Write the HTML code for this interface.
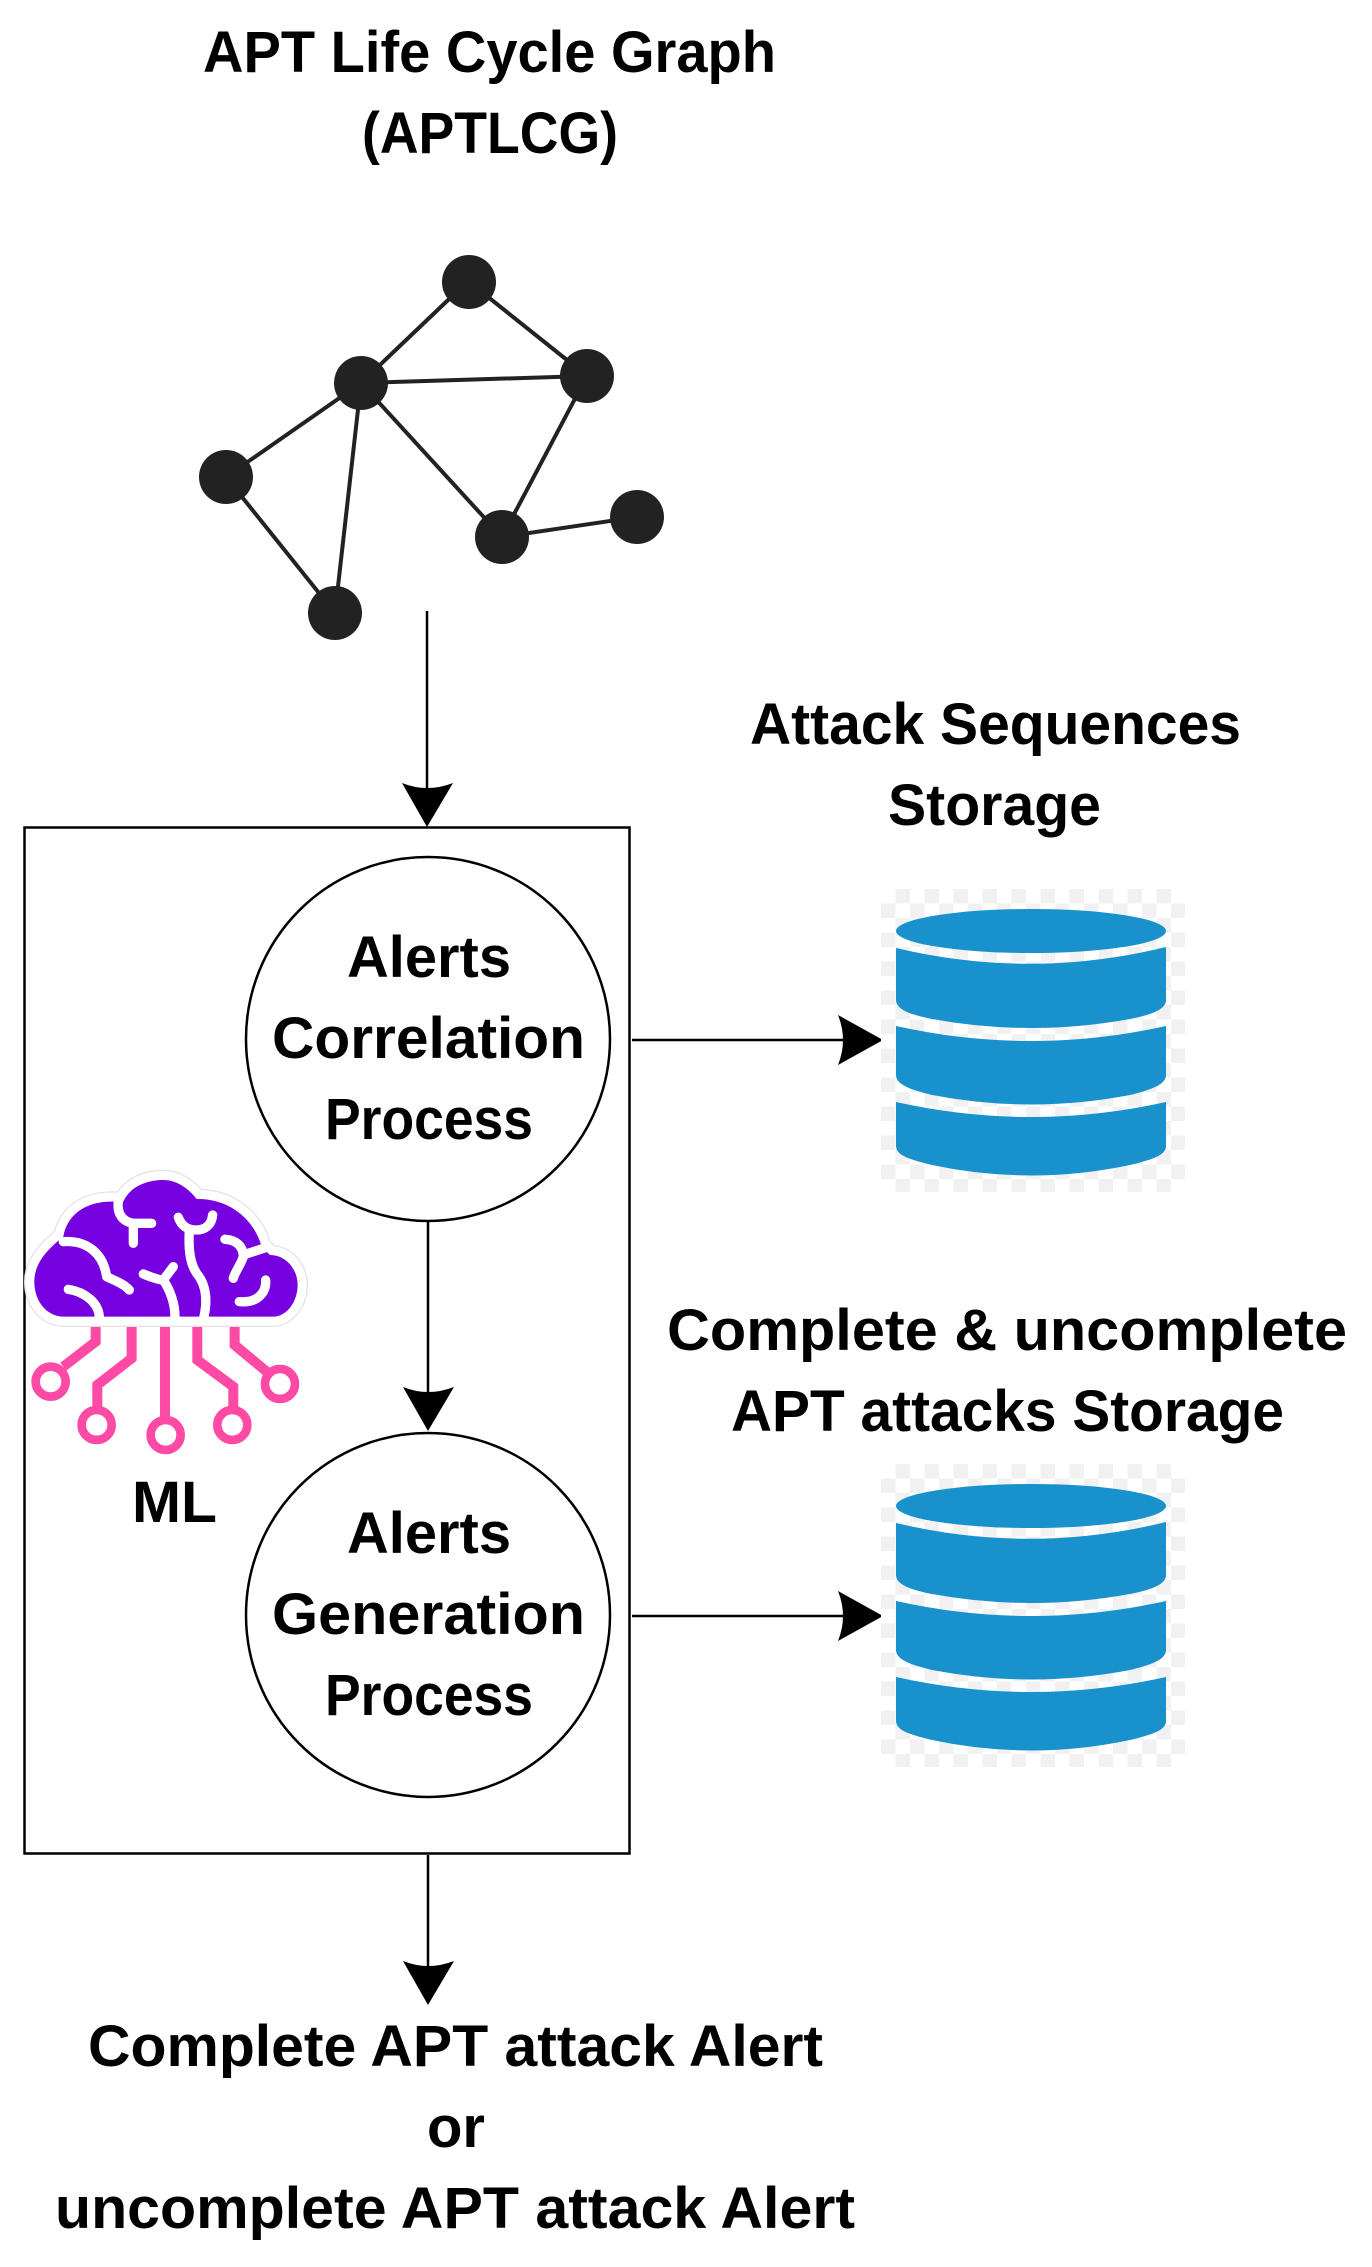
<!DOCTYPE html>
<html><head><meta charset="utf-8"><style>
html,body{margin:0;padding:0;background:#fff}
svg{display:block}
text{font-family:"Liberation Sans",sans-serif;font-weight:700;font-size:58px;fill:#000}
</style></head><body>
<svg width="1372" height="2267" viewBox="0 0 1372 2267" xmlns="http://www.w3.org/2000/svg">
<defs>
<pattern id="ck" x="881" y="889" width="29" height="29" patternUnits="userSpaceOnUse">
<rect width="29" height="29" fill="#fff"/><rect x="14.5" width="14.5" height="14.5" fill="#f1f1f1"/><rect y="14.5" width="14.5" height="14.5" fill="#f1f1f1"/>
</pattern>
<g id="db">
<rect x="881" y="889" width="304" height="303" fill="url(#ck)"/>
<ellipse cx="1031" cy="931" rx="135" ry="22" fill="#1891cd"/>
<path d="M896,948 Q1031,980 1166,947 V1000 C1166,1010 1150,1015 1130,1019 Q1031,1037 932,1019 C912,1015 896,1010 896,1000Z" fill="#1891cd"/>
<path d="M896,1026 Q1031,1056 1166,1026 V1075 C1166,1085 1150,1090 1130,1095 Q1031,1114 932,1095 C912,1090 896,1085 896,1075Z" fill="#1891cd"/>
<path d="M896,1102 Q1031,1132 1166,1102 V1146 C1166,1156 1150,1160 1130,1165 Q1031,1186 932,1165 C912,1160 896,1156 896,1146Z" fill="#1891cd"/>
</g>
</defs>
<rect width="1372" height="2267" fill="#fff"/>

<!-- graph -->
<g stroke="#222" stroke-width="4" fill="none">
<path d="M468,281 L361,383 M468,281 L587,376 M361,383 L587,376 M361,383 L226,477 M361,383 L335,613 M361,383 L502,537 M587,376 L502,537 M226,477 L335,613 M502,537 L637,517"/>
</g>
<g fill="#222">
<circle cx="469" cy="282" r="27"/>
<circle cx="361" cy="383" r="27"/>
<circle cx="587" cy="376" r="27"/>
<circle cx="226" cy="477" r="27"/>
<circle cx="335" cy="613" r="27"/>
<circle cx="502" cy="537" r="27"/>
<circle cx="637" cy="517" r="27"/>
</g>

<!-- box and circles -->
<rect x="24.5" y="827.5" width="605" height="1026" fill="#fff" stroke="#000" stroke-width="2.5"/>
<circle cx="428" cy="1039" r="182" fill="#fff" stroke="#000" stroke-width="2.5"/>
<circle cx="428" cy="1615" r="182" fill="#fff" stroke="#000" stroke-width="2.5"/>

<!-- arrows -->
<g stroke="#000" stroke-width="2.5" fill="none">
<path d="M427,611 V790 M428,1221 V1400 M428,1855 V1970 M632,1040 H850 M632,1616 H850"/>
</g>
<g fill="#000">
<path d="M402,783 Q427,793 453,783 L427,827Z"/>
<path d="M403,1387 Q428,1397 454,1387 L428,1431Z"/>
<path d="M403,1961 Q428,1971 454,1961 L428,2005Z"/>
<path d="M838,1015 Q848,1040 838,1065 L883,1040Z"/>
<path d="M838,1591 Q848,1616 838,1641 L883,1616Z"/>
</g>

<!-- databases -->
<use href="#db"/>
<use href="#db" y="575"/>

<!-- ML icon -->
<g transform="translate(0,1130) scale(0.3333)">
<g fill="none" stroke="#ff4aa5" stroke-width="30" stroke-linejoin="miter">
<path d="M287,585 V635 L190,710"/>
<path d="M395,585 V685 L292,765 V835"/>
<path d="M495,585 V865"/>
<path d="M592,585 V690 L700,770 V835"/>
<path d="M704,585 V645 L800,725"/>
</g>
<g fill="#fff" stroke="#ff4aa5" stroke-width="26">
<circle cx="152" cy="755" r="45"/>
<circle cx="290" cy="885" r="45"/>
<circle cx="497" cy="915" r="45"/>
<circle cx="697" cy="885" r="45"/>
<circle cx="840" cy="762" r="45"/>
</g>
<path d="M185,560 C135,555 103,510 103,455 C103,395 150,352 190,320 C200,260 250,215 335,215 L370,215 C390,170 440,150 490,150 C530,150 565,175 590,207 C680,205 760,260 785,350 L810,375 C860,375 893,420 893,465 C893,515 860,560 820,560 Z" fill="#7600e0" stroke="#e4e4e4" stroke-width="62" stroke-linejoin="round"/>
<path d="M185,560 C135,555 103,510 103,455 C103,395 150,352 190,320 C200,260 250,215 335,215 L370,215 C390,170 440,150 490,150 C530,150 565,175 590,207 C680,205 760,260 785,350 L810,375 C860,375 893,420 893,465 C893,515 860,560 820,560 Z" fill="#7600e0" stroke="#fff" stroke-width="54" stroke-linejoin="round"/>
<path d="M185,560 C135,555 103,510 103,455 C103,395 150,352 190,320 C200,260 250,215 335,215 L370,215 C390,170 440,150 490,150 C530,150 565,175 590,207 C680,205 760,260 785,350 L810,375 C860,375 893,420 893,465 C893,515 860,560 820,560 Z" fill="#7600e0"/>
<g fill="none" stroke="#fff" stroke-width="28" stroke-linecap="round" stroke-linejoin="round">
<path d="M190,335 C260,330 310,370 320,440 C340,450 370,460 388,480"/>
<path d="M355,215 C350,255 370,275 400,280 L455,280 M400,280 L400,340"/>
<path d="M535,262 C545,290 565,300 590,300 C615,300 635,285 638,255 M568,300 C565,360 570,400 590,430 C615,460 625,500 612,560"/>
<path d="M430,432 C450,440 475,450 490,450 L520,410 M490,450 C510,480 525,520 525,560"/>
<path d="M675,328 C710,330 730,350 730,380 C725,400 705,425 700,445 M730,375 L800,352"/>
<path d="M205,478 C250,485 295,515 298,560"/>
<path d="M797,450 C800,490 770,520 718,515"/>
</g>
</g>

<!-- labels -->
<g>
<text x="203" y="72" textLength="573" lengthAdjust="spacingAndGlyphs">APT Life Cycle Graph</text>
<text x="362" y="153" textLength="256" lengthAdjust="spacingAndGlyphs">(APTLCG)</text>
<text x="750" y="744" textLength="491" lengthAdjust="spacingAndGlyphs">Attack Sequences</text>
<text x="888" y="825" textLength="213" lengthAdjust="spacingAndGlyphs">Storage</text>
<text x="347" y="977" textLength="164" lengthAdjust="spacingAndGlyphs">Alerts</text>
<text x="272" y="1058" textLength="313" lengthAdjust="spacingAndGlyphs">Correlation</text>
<text x="325" y="1139" textLength="208" lengthAdjust="spacingAndGlyphs">Process</text>
<text x="667" y="1350" textLength="680" lengthAdjust="spacingAndGlyphs">Complete &amp; uncomplete</text>
<text x="731" y="1431" textLength="553" lengthAdjust="spacingAndGlyphs">APT attacks Storage</text>
<text x="132" y="1522" textLength="85" lengthAdjust="spacingAndGlyphs">ML</text>
<text x="347" y="1553" textLength="164" lengthAdjust="spacingAndGlyphs">Alerts</text>
<text x="272" y="1634" textLength="313" lengthAdjust="spacingAndGlyphs">Generation</text>
<text x="325" y="1715" textLength="208" lengthAdjust="spacingAndGlyphs">Process</text>
<text x="88" y="2066" textLength="735" lengthAdjust="spacingAndGlyphs">Complete APT attack Alert</text>
<text x="427" y="2147" textLength="58" lengthAdjust="spacingAndGlyphs">or</text>
<text x="55" y="2228" textLength="800" lengthAdjust="spacingAndGlyphs">uncomplete APT attack Alert</text>
</g>
</svg>
</body></html>
